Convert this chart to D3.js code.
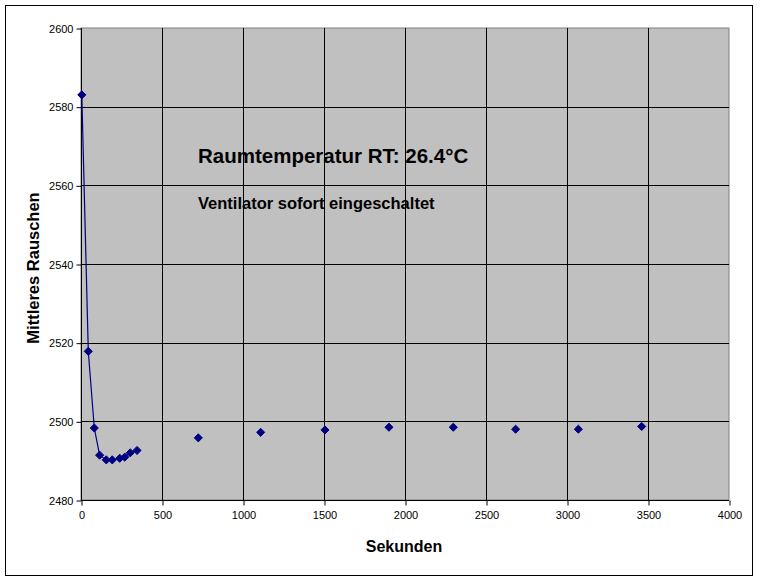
<!DOCTYPE html>
<html><head><meta charset="utf-8">
<script src="https://cdn.jsdelivr.net/npm/d3@7"></script>
<style>body{margin:0;background:#fff}svg{display:block}text{font-family:"Liberation Sans",Arial,sans-serif}</style>
</head><body>
<svg id="c" width="760" height="581"></svg>
<script>
// Series with connecting line (first phase)
const lineTimes  = [5, 45, 82, 115, 156, 193, 239, 270, 304, 346];
const lineValues = [2583.0, 2517.8, 2498.3, 2491.4, 2490.2, 2490.2, 2490.6, 2490.9, 2492.0, 2492.6];
// Series shown as markers only (later measurements)
const dotTimes  = [724, 1109, 1506, 1901, 2298, 2683, 3070, 3461];
const dotValues = [2495.8, 2497.2, 2497.8, 2498.5, 2498.5, 2498.0, 2498.0, 2498.7];
const xTicks = [0, 500, 1000, 1500, 2000, 2500, 3000, 3500, 4000];
const yTicks = [2480, 2500, 2520, 2540, 2560, 2580, 2600];
const xTitle = "Sekunden";
const yTitle = "Mittleres Rauschen";
const note1 = "Raumtemperatur RT: 26.4°C";
const note2 = "Ventilator sofort eingeschaltet";

const svg = d3.select("#c");
const L = 81, R = 729, T = 28, B = 500;
const x = d3.scaleLinear().domain([0, 4000]).range([L, R]);
const y = d3.scaleLinear().domain([2480, 2600]).range([B, T]);

svg.append("rect").attr("x", 5.5).attr("y", 5.5).attr("width", 747).attr("height", 570)
  .attr("fill", "#fff").attr("stroke", "#000");

svg.append("rect").attr("x", L).attr("y", T).attr("width", R - L).attr("height", B - T)
  .attr("fill", "#c0c0c0").attr("stroke", "#808080");

// grid
svg.append("g").selectAll("line").data(xTicks.filter(d => d > 0 && d < 4000)).join("line")
  .attr("x1", d => Math.round(x(d)) + 0.5).attr("x2", d => Math.round(x(d)) + 0.5)
  .attr("y1", T).attr("y2", B).attr("stroke", "#000");
svg.append("g").selectAll("line").data(yTicks.filter(d => d > 2480 && d < 2600)).join("line")
  .attr("y1", d => Math.round(y(d)) + 0.5).attr("y2", d => Math.round(y(d)) + 0.5)
  .attr("x1", L).attr("x2", R).attr("stroke", "#000");

// axes
const xAxis = d3.axisBottom(x).tickValues(xTicks).tickSize(5).tickPadding(6).tickFormat(d3.format("d"));
const yAxis = d3.axisLeft(y).tickValues(yTicks).tickSize(5).tickPadding(3).tickFormat(d3.format("d"));
const gx = svg.append("g").attr("transform", `translate(0.5,${B + 0.5})`).call(xAxis);
const gy = svg.append("g").attr("transform", `translate(${L + 0.5},0.5)`).call(yAxis);
[gx, gy].forEach(g => {
  g.select(".domain").attr("stroke", "#000");
  g.selectAll(".tick line").attr("stroke", "#000");
  g.selectAll(".tick text").attr("fill", "#000").style("font-size", "11px")
    .style("font-family", '"Liberation Sans", Arial, sans-serif');
});
gx.select(".domain").attr("d", `M${L - 0.5},0H${R - 0.5}`);
gy.select(".domain").attr("d", `M0,${B - 0.5}V${T - 0.5}`);

// line
const lineData = lineTimes.map((t, i) => [t, lineValues[i]]);
const dotData = dotTimes.map((t, i) => [t, dotValues[i]]);
svg.append("path").datum(lineData)
  .attr("d", d3.line().x(d => x(d[0])).y(d => y(d[1])))
  .attr("fill", "none").attr("stroke", "#000080").attr("stroke-width", 1.2);

const diamond = d3.symbol().type(d3.symbolDiamond2).size(42);
svg.append("g").selectAll("path").data(lineData.concat(dotData)).join("path")
  .attr("transform", d => `translate(${x(d[0])},${y(d[1])})`)
  .attr("d", diamond).attr("fill", "#000080").attr("stroke", "#000080").attr("stroke-width", 1);

// titles
svg.append("text").attr("x", 404).attr("y", 552).attr("text-anchor", "middle")
  .style("font-size", "16px").style("font-weight", "bold").text(xTitle);
svg.append("text").attr("transform", "translate(39,268) rotate(-90)").attr("text-anchor", "middle")
  .style("font-size", "16.5px").style("font-weight", "bold").text(yTitle);

svg.append("text").attr("x", 198).attr("y", 163)
  .style("font-size", "20.5px").style("font-weight", "bold").text(note1);
svg.append("text").attr("x", 198).attr("y", 209)
  .style("font-size", "16.5px").style("font-weight", "bold").text(note2);
</script>
</body></html>
